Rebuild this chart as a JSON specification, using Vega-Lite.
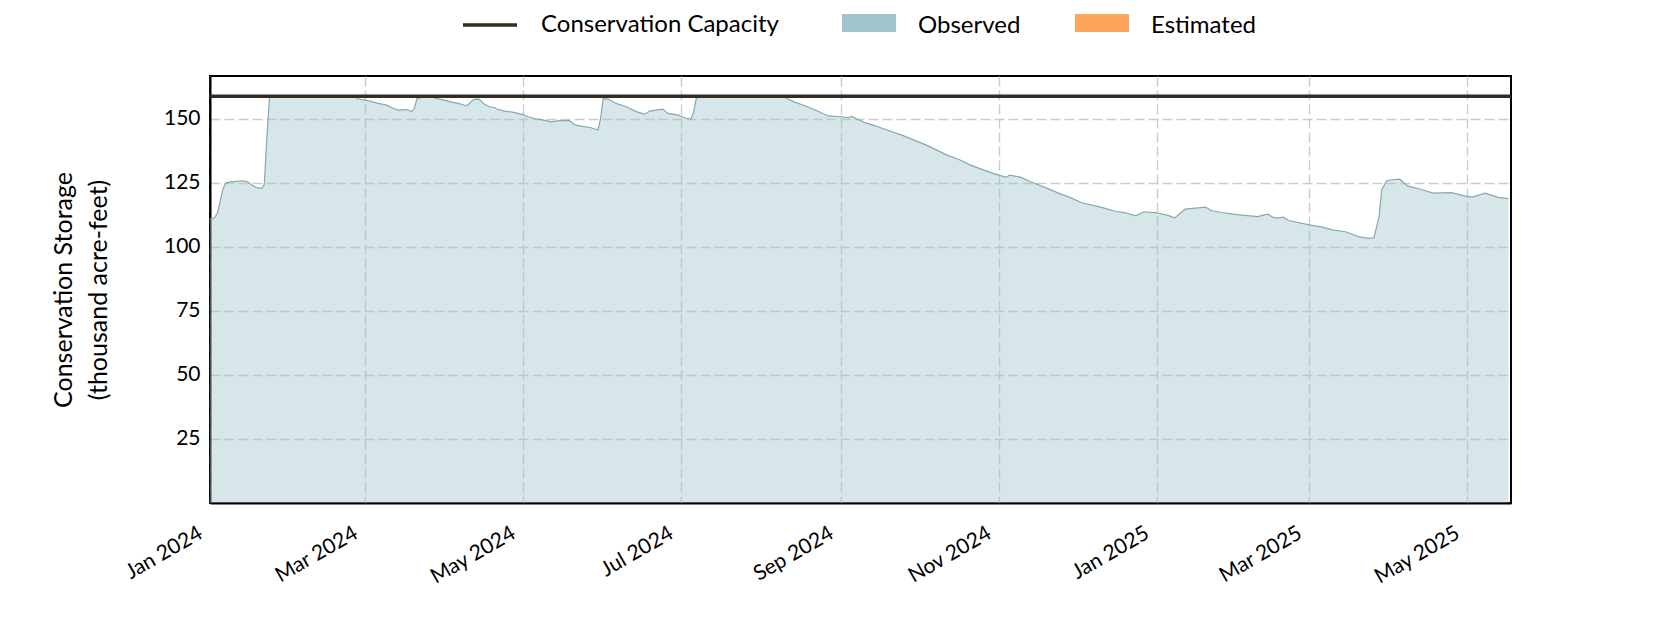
{
  "$schema": "https://vega.github.io/schema/vega-lite/v6.json",
  "width": 1301,
  "height": 427,
  "autosize": {"type": "none"},
  "padding": {"left": 210, "top": 76, "right": 169, "bottom": 127},
  "background": "white",
  "config": {
    "font": "Lato",
    "view": {"stroke": "black", "strokeWidth": 2},
    "axis": {
      "labelFont": "Lato",
      "titleFont": "Lato",
      "labelColor": "black",
      "titleColor": "black",
      "labelFontSize": 21,
      "titleFontSize": 25,
      "titleFontWeight": "normal",
      "domain": true,
      "domainColor": "black",
      "domainWidth": 2,
      "ticks": false,
      "gridColor": "#cccccc",
      "gridDash": [10, 4],
      "gridWidth": 1.4,
      "zindex": 1
    },
    "legend": {
      "labelFont": "Lato",
      "labelFontSize": 24,
      "labelColor": "black",
      "labelLimit": 0,
      "title": null
    }
  },
  "datasets": {
    "obs": [
      {"date": "2024-01-01", "value": 110.8},
      {"date": "2024-01-02", "value": 111.0},
      {"date": "2024-01-03", "value": 111.6},
      {"date": "2024-01-04", "value": 113.5},
      {"date": "2024-01-05", "value": 118.0},
      {"date": "2024-01-06", "value": 122.6},
      {"date": "2024-01-07", "value": 124.8},
      {"date": "2024-01-09", "value": 125.5},
      {"date": "2024-01-11", "value": 125.6},
      {"date": "2024-01-13", "value": 125.8},
      {"date": "2024-01-15", "value": 125.6},
      {"date": "2024-01-16", "value": 125.0},
      {"date": "2024-01-18", "value": 123.6},
      {"date": "2024-01-20", "value": 122.9},
      {"date": "2024-01-21", "value": 122.8},
      {"date": "2024-01-22", "value": 124.3},
      {"date": "2024-01-23", "value": 143.0},
      {"date": "2024-01-24", "value": 158.2},
      {"date": "2024-01-25", "value": 158.8},
      {"date": "2024-02-05", "value": 158.8},
      {"date": "2024-02-15", "value": 158.7},
      {"date": "2024-02-26", "value": 158.7},
      {"date": "2024-02-27", "value": 157.8},
      {"date": "2024-03-01", "value": 157.3},
      {"date": "2024-03-04", "value": 156.6},
      {"date": "2024-03-06", "value": 156.0},
      {"date": "2024-03-09", "value": 155.4},
      {"date": "2024-03-12", "value": 154.0},
      {"date": "2024-03-14", "value": 153.4},
      {"date": "2024-03-17", "value": 153.6},
      {"date": "2024-03-19", "value": 152.8},
      {"date": "2024-03-20", "value": 154.0},
      {"date": "2024-03-21", "value": 157.9},
      {"date": "2024-03-23", "value": 158.3},
      {"date": "2024-03-27", "value": 158.3},
      {"date": "2024-03-29", "value": 157.9},
      {"date": "2024-04-01", "value": 157.2},
      {"date": "2024-04-03", "value": 156.6},
      {"date": "2024-04-06", "value": 156.0},
      {"date": "2024-04-09", "value": 155.1},
      {"date": "2024-04-10", "value": 155.8},
      {"date": "2024-04-12", "value": 157.6},
      {"date": "2024-04-14", "value": 157.7},
      {"date": "2024-04-16", "value": 155.8},
      {"date": "2024-04-18", "value": 154.7},
      {"date": "2024-04-20", "value": 154.4},
      {"date": "2024-04-21", "value": 153.7},
      {"date": "2024-04-24", "value": 153.0},
      {"date": "2024-04-27", "value": 152.6},
      {"date": "2024-04-29", "value": 152.1},
      {"date": "2024-05-01", "value": 151.6},
      {"date": "2024-05-03", "value": 150.8},
      {"date": "2024-05-06", "value": 150.0},
      {"date": "2024-05-08", "value": 149.7},
      {"date": "2024-05-12", "value": 148.8},
      {"date": "2024-05-15", "value": 149.3},
      {"date": "2024-05-19", "value": 149.3},
      {"date": "2024-05-21", "value": 147.6},
      {"date": "2024-05-24", "value": 147.0},
      {"date": "2024-05-27", "value": 146.6},
      {"date": "2024-05-30", "value": 145.6},
      {"date": "2024-05-31", "value": 150.0},
      {"date": "2024-06-01", "value": 157.9},
      {"date": "2024-06-03", "value": 157.7},
      {"date": "2024-06-06", "value": 156.0},
      {"date": "2024-06-10", "value": 154.7},
      {"date": "2024-06-14", "value": 152.7},
      {"date": "2024-06-17", "value": 151.8},
      {"date": "2024-06-19", "value": 153.0},
      {"date": "2024-06-24", "value": 153.8},
      {"date": "2024-06-26", "value": 152.1},
      {"date": "2024-06-30", "value": 151.4},
      {"date": "2024-07-03", "value": 150.2},
      {"date": "2024-07-05", "value": 149.9},
      {"date": "2024-07-06", "value": 152.7},
      {"date": "2024-07-07", "value": 157.9},
      {"date": "2024-07-09", "value": 158.6},
      {"date": "2024-07-19", "value": 158.8},
      {"date": "2024-07-29", "value": 158.6},
      {"date": "2024-08-10", "value": 158.5},
      {"date": "2024-08-14", "value": 156.5},
      {"date": "2024-08-18", "value": 155.1},
      {"date": "2024-08-22", "value": 153.4},
      {"date": "2024-08-27", "value": 151.1},
      {"date": "2024-09-01", "value": 150.8},
      {"date": "2024-09-04", "value": 150.4},
      {"date": "2024-09-05", "value": 151.0},
      {"date": "2024-09-07", "value": 150.0},
      {"date": "2024-09-10", "value": 148.6},
      {"date": "2024-09-13", "value": 147.6},
      {"date": "2024-09-16", "value": 146.6},
      {"date": "2024-09-25", "value": 143.4},
      {"date": "2024-10-04", "value": 139.7},
      {"date": "2024-10-12", "value": 135.8},
      {"date": "2024-10-17", "value": 133.9},
      {"date": "2024-10-21", "value": 131.9},
      {"date": "2024-10-30", "value": 128.6},
      {"date": "2024-11-04", "value": 127.1},
      {"date": "2024-11-05", "value": 128.0},
      {"date": "2024-11-09", "value": 127.3},
      {"date": "2024-11-14", "value": 125.1},
      {"date": "2024-11-19", "value": 123.1},
      {"date": "2024-11-25", "value": 120.6},
      {"date": "2024-11-28", "value": 119.5},
      {"date": "2024-12-03", "value": 117.2},
      {"date": "2024-12-10", "value": 115.6},
      {"date": "2024-12-16", "value": 113.9},
      {"date": "2024-12-20", "value": 113.3},
      {"date": "2024-12-24", "value": 112.1},
      {"date": "2024-12-27", "value": 113.7},
      {"date": "2025-01-01", "value": 113.3},
      {"date": "2025-01-05", "value": 112.4},
      {"date": "2025-01-08", "value": 111.3},
      {"date": "2025-01-10", "value": 113.0},
      {"date": "2025-01-12", "value": 114.7},
      {"date": "2025-01-16", "value": 115.1},
      {"date": "2025-01-20", "value": 115.5},
      {"date": "2025-01-22", "value": 114.2},
      {"date": "2025-01-26", "value": 113.4},
      {"date": "2025-02-02", "value": 112.5},
      {"date": "2025-02-09", "value": 111.8},
      {"date": "2025-02-13", "value": 112.8},
      {"date": "2025-02-15", "value": 111.5},
      {"date": "2025-02-17", "value": 111.2},
      {"date": "2025-02-19", "value": 111.6},
      {"date": "2025-02-21", "value": 110.3},
      {"date": "2025-03-01", "value": 108.6},
      {"date": "2025-03-06", "value": 107.7},
      {"date": "2025-03-10", "value": 106.6},
      {"date": "2025-03-15", "value": 105.9},
      {"date": "2025-03-20", "value": 104.0},
      {"date": "2025-03-24", "value": 103.3},
      {"date": "2025-03-26", "value": 103.5},
      {"date": "2025-03-28", "value": 111.8},
      {"date": "2025-03-29", "value": 122.3},
      {"date": "2025-03-31", "value": 125.9},
      {"date": "2025-04-02", "value": 126.2},
      {"date": "2025-04-05", "value": 126.4},
      {"date": "2025-04-08", "value": 123.8},
      {"date": "2025-04-13", "value": 122.5},
      {"date": "2025-04-18", "value": 121.0},
      {"date": "2025-04-25", "value": 121.2},
      {"date": "2025-04-30", "value": 119.9},
      {"date": "2025-05-03", "value": 119.4},
      {"date": "2025-05-08", "value": 121.0},
      {"date": "2025-05-13", "value": 119.3},
      {"date": "2025-05-17", "value": 118.8}
    ],
    "cap": [
      {"series": "Conservation Capacity", "value": 158.8}
    ]
  },
  "encoding": {
    "y": {
      "field": "value",
      "type": "quantitative",
      "scale": {"domain": [0, 166.7], "nice": false, "zero": false},
      "axis": {
        "title": ["Conservation Storage", "(thousand acre-feet)"],
        "titleLineHeight": 35,
        "titlePadding": 52,
        "values": [25, 50, 75, 100, 125, 150],
        "labelPadding": 10
      }
    }
  },
  "layer": [
    {
      "data": {"name": "obs"},
      "mark": {"type": "area", "fillOpacity": 0.42},
      "encoding": {
        "x": {
          "field": "date",
          "type": "temporal",
          "scale": {"type": "utc", "domain": ["2024-01-01", "2025-05-18"], "nice": false},
          "axis": {
            "title": null,
            "format": "%b %Y",
            "tickCount": {"interval": "month", "step": 2},
            "labelAngle": -30,
            "labelAlign": "right",
            "labelBaseline": "top",
            "labelFlush": false,
            "labelOverlap": false,
            "labelPadding": 19,
            "labelOffset": -15
          }
        },
        "fill": {
          "datum": "Observed",
          "type": "nominal",
          "scale": {"domain": ["Observed", "Estimated"], "range": ["#9fc4cb", "#fea55c"]},
          "legend": {
            "orient": "none",
            "direction": "horizontal",
            "legendX": 632,
            "legendY": -77,
            "symbolType": "M-1,-0.444H1V0.222H-1Z",
            "symbolSize": 2916,
            "symbolOpacity": 1,
            "symbolStrokeWidth": 0,
            "labelOffset": 22,
            "columnPadding": 54
          }
        }
      }
    },
    {
      "data": {"name": "obs"},
      "mark": {"type": "line", "color": "#84a9af", "strokeWidth": 1.2},
      "encoding": {
        "x": {"field": "date", "type": "temporal"}
      }
    },
    {
      "data": {"name": "cap"},
      "mark": {"type": "rule", "strokeWidth": 3.5},
      "encoding": {
        "stroke": {
          "field": "series",
          "type": "nominal",
          "scale": {"domain": ["Conservation Capacity"], "range": ["#332d22"]},
          "legend": {
            "orient": "none",
            "legendX": 251,
            "legendY": -80,
            "symbolType": "stroke",
            "symbolSize": 2916,
            "symbolStrokeWidth": 3.5,
            "labelOffset": 22
          }
        }
      }
    }
  ]
}
